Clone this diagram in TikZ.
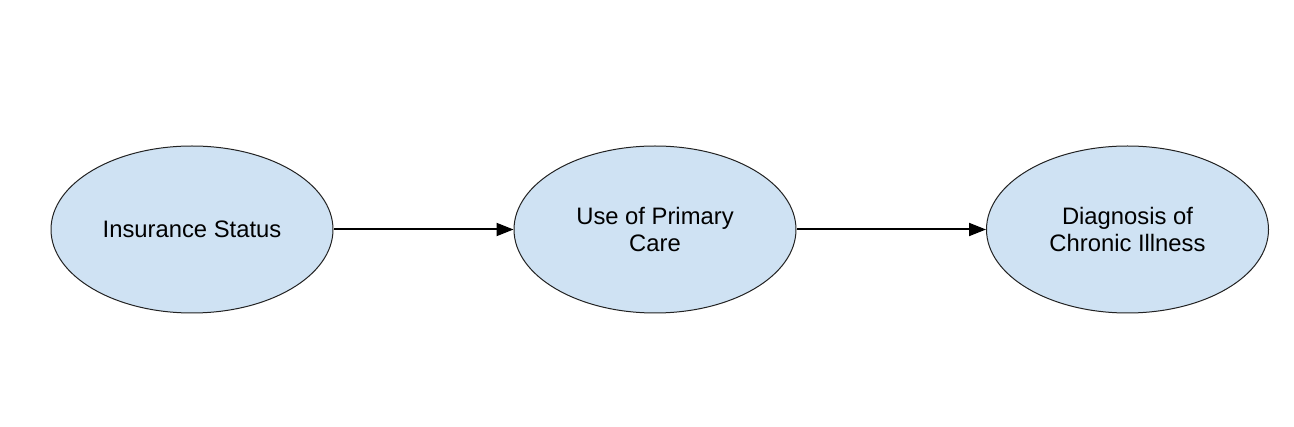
\documentclass[tikz,border=0pt]{standalone}
\usepackage{fontspec}
\setmainfont{Liberation Sans}
\usetikzlibrary{shapes.geometric,arrows.meta}
\definecolor{nodefill}{HTML}{CFE2F3}
\definecolor{nodeline}{HTML}{222222}
\tikzset{
  oval/.style={ellipse, draw=nodeline, fill=nodefill, line width=1pt,
    minimum width=282pt, minimum height=167pt, inner sep=0pt, align=center,
    font=\fontsize{23.8pt}{27.6pt}\selectfont},
  conn/.style={-{Triangle[length=17pt,width=13pt]}, line width=2pt, black}
}
\begin{document}
\begin{tikzpicture}[x=1pt,y=-1pt]
\useasboundingbox (0,0) rectangle (1294,427);
\node[oval] (ins) at (192,229.5) {Insurance Status};
\node[oval] (use) at (655,229.5) {Use of Primary\\Care};
\node[oval] (dia) at (1127.5,229.5) {Diagnosis of\\Chronic Illness};
\draw[conn] (ins) -- (use);
\draw[conn] (use) -- (dia);
\end{tikzpicture}
\end{document}
